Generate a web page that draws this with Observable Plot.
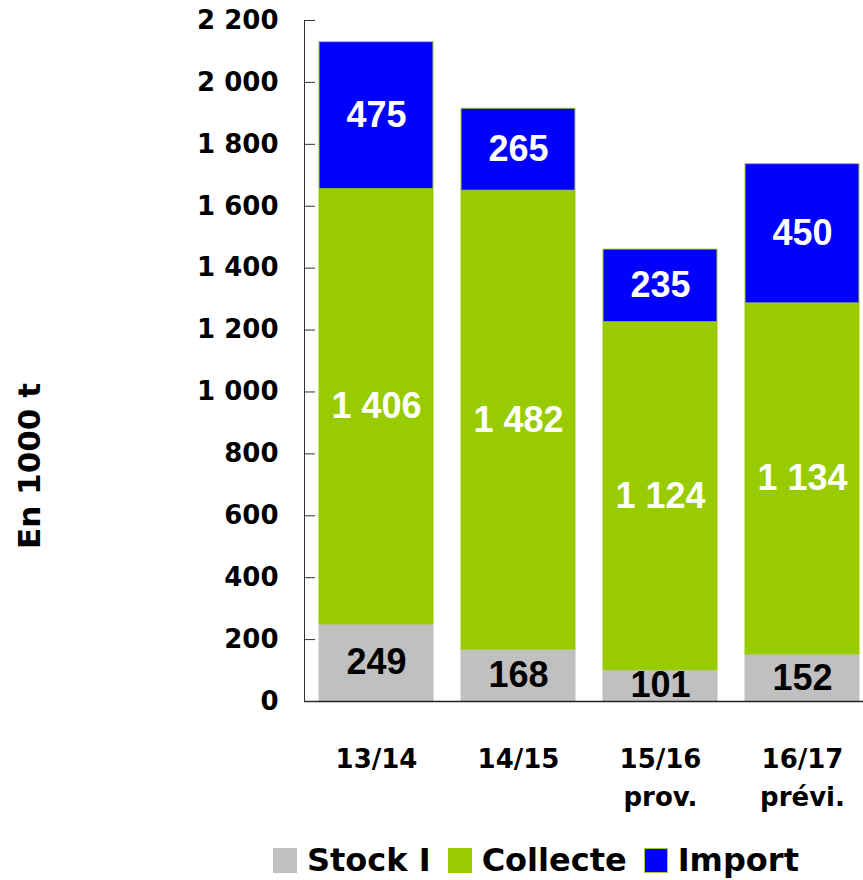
<!DOCTYPE html>
<html><head><meta charset="utf-8">
<script src="https://cdn.jsdelivr.net/npm/d3@7"></script>
<script src="https://cdn.jsdelivr.net/npm/@observablehq/plot@0.6"></script>
<style>
body{margin:0;background:#fff;font-family:"Liberation Sans",Arial,sans-serif;}
#chart svg{display:block}
#chart [aria-label="y-axis tick label"] text,
#chart [aria-label="x-axis tick label"] text,
#chart .ylab text{font-family:"DejaVu Sans",sans-serif}
#legend{display:flex;align-items:center;height:45px;padding-left:273px;padding-top:5px;font-family:"DejaVu Sans",sans-serif;font-weight:bold;font-size:32px;color:#000;box-sizing:border-box}
.sw{width:24px;height:25px;margin-right:10px;box-sizing:border-box;flex:none}
.item{display:flex;align-items:center;margin-right:17px}
</style></head><body><div id="chart"></div><div id="legend"></div><script>
const campaigns = ["13/14", "14/15", "15/16", "16/17"];
const campaignNotes = ["", "", "prov.", "prévi."];
const series = ["Stock I", "Collecte", "Import"];
const stock = [249, 168, 101, 152];
const collecte = [1406, 1482, 1124, 1134];
const imports = [475, 265, 235, 450];
const yTicks = [0, 200, 400, 600, 800, 1000, 1200, 1400, 1600, 1800, 2000, 2200];
const colors = ["#C0C0C0", "#99CC00", "#0000FF"];
const yLabel = "En 1000 t";

const seriesValues = [stock, collecte, imports];
const rows = [];
campaigns.forEach((c, i) => series.forEach((s, j) => rows.push({campaign: c, series: s, value: seriesValues[j][i]})));
const colorOf = s => colors[series.indexOf(s)];
const fmt = d => d3.format(",")(d).replace(/,/g, " ");

const W = 863, H = 835;
const chart = Plot.plot({
  width: W, height: H,
  marginTop: 20, marginBottom: H - 701, marginLeft: 304, marginRight: 0,
  style: {fontFamily: "'Liberation Sans', Arial, sans-serif", background: "#fff", overflow: "visible", color: "#000"},
  x: {domain: campaigns, range: [304, 874], paddingInner: 0.2, paddingOuter: 0.1},
  y: {domain: [0, 2200]},
  color: {domain: series, range: colors},
  marks: [
    Plot.barY(rows, {x: "campaign", y: "value", fill: "series", order: series,
      stroke: d => d.series === "Import" ? "#A8C838" : colorOf(d.series), strokeWidth: 1}),
    Plot.text(rows, Plot.stackY({x: "campaign", y: "value", z: "series", order: series,
      text: d => fmt(d.value), fill: d => d.series === "Stock I" ? "#000" : "#fff",
      fontSize: 36, fontWeight: "bold"})),
    Plot.ruleY([0], {stroke: "#222", strokeWidth: 1.5}),
    Plot.frame({anchor: "left", stroke: "#333"}),
    Plot.tickY(yTicks, {y: d => d, insetRight: W - 304 - 11, stroke: "#333"}),
    Plot.axisY({ticks: yTicks, tickSize: 0, tickPadding: 26, tickFormat: fmt, fontSize: 26, fontWeight: "bold", label: null}),
    Plot.axisX({tickSize: 0, tickPadding: 40, fontSize: 26, fontWeight: "bold", lineHeight: 1.45, label: null,
      tickFormat: d => { const n = campaignNotes[campaigns.indexOf(d)]; return n ? d + "\n" + n : d; }}),
    Plot.text([yLabel], {text: d => d, frameAnchor: "left", textAnchor: "middle", rotate: -90, dx: -274, dy: 105, fontSize: 31, fontWeight: "bold", className: "ylab"})
  ]
});
document.getElementById("chart").appendChild(chart);

const legend = document.getElementById("legend");
series.forEach((s, i) => {
  const item = document.createElement("div");
  item.className = "item";
  const sw = document.createElement("div");
  sw.className = "sw";
  sw.style.background = colors[i];
  if (s === "Import") sw.style.border = "1px solid #A8C838";
  const t = document.createElement("span");
  t.textContent = s;
  item.appendChild(sw); item.appendChild(t);
  legend.appendChild(item);
});
</script></body></html>
